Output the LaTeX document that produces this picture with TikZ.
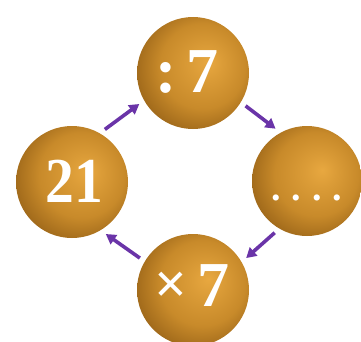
\documentclass[tikz,border=0pt]{standalone}
\usepackage{fontspec}
\setmainfont{Liberation Serif}
\usetikzlibrary{arrows.meta}
\definecolor{goldhi}{HTML}{E8A840}
\definecolor{goldmid}{HTML}{C88A2A}
\definecolor{golddark}{HTML}{9C6619}
\definecolor{arrowpurple}{HTML}{6A34A8}
\pgfdeclareradialshading{goldball}{\pgfpoint{7bp}{5bp}}{color(0bp)=(goldhi); color(7bp)=(goldhi!60!goldmid); color(19bp)=(goldmid); color(30bp)=(golddark); color(50bp)=(golddark)}
\tikzset{
  ball/.style={circle, minimum size=112pt, inner sep=0pt, outer sep=6pt, shading=goldball},
  numtext/.style={text=white, font=\fontsize{64}{64}\selectfont\bfseries, anchor=base, inner sep=0pt},
  arr/.style={draw=arrowpurple, line width=3.6pt, -{Triangle[length=10pt,width=11pt]}}
}
\begin{document}
\begin{tikzpicture}[x=1pt,y=1pt]
\useasboundingbox (0,0) rectangle (361,341);
\clip (0,0) rectangle (361,341);
\node[ball] (t) at (193,268) {};
\node[ball] (l) at (72,159) {};
\node[ball, minimum size=110pt] (r) at (307,160) {};
\node[ball] (b) at (193,51) {};
\node[numtext, xscale=0.9] (tl) at (74,139) {21};
\node[numtext] (tt) at (187,249) {:\,7};
\node[numtext, font=\fontsize{38}{38}\selectfont\bfseries] (tr) at (307,141) {.\kern11pt.\kern11pt.\kern11pt.};
\node[numtext] (tb) at (192,35) {\raisebox{3pt}{\fontsize{58}{58}\selectfont ×}\kern10pt7};
\draw[arr] (l.58) -- (t.210);
\draw[arr] (t.328) -- (r.121);
\draw[arr] (r.238) -- (b.31);
\draw[arr] (b.149) -- (l.303);
\end{tikzpicture}
\end{document}
